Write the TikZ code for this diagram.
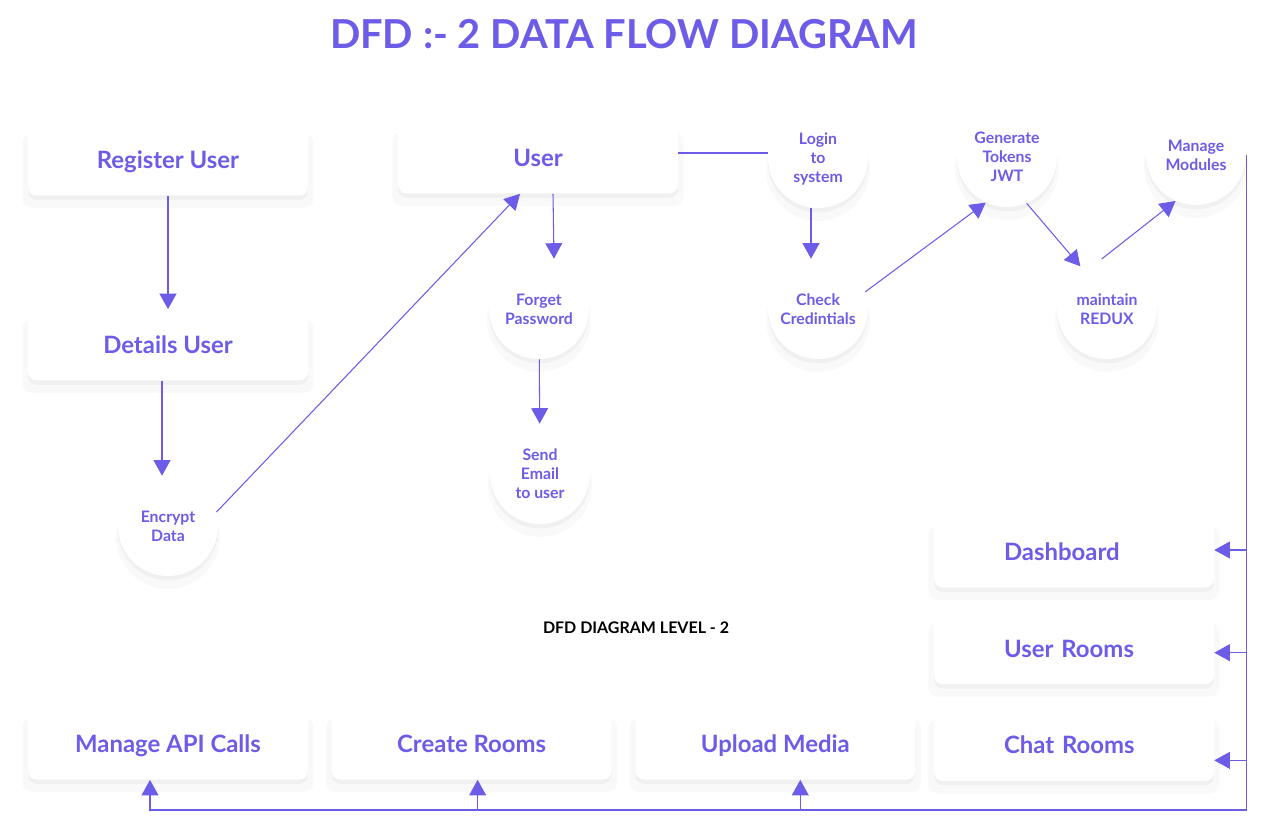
\documentclass[tikz,border=0pt]{standalone}
\usepackage{fontspec}
\setmainfont{Lato}
\usepackage{tikz}
\usetikzlibrary{arrows.meta,positioning,shadows}
\definecolor{dfdpurple}{HTML}{6C5CE7}
\tikzset{soft/.style={general shadow={fill=black, opacity=0.025, shadow scale=1.04, shadow yshift=-6pt},
    drop shadow={fill=black, opacity=0.035, shadow xshift=0pt, shadow yshift=-2.5pt}}}
\tikzset{proc/.style={circle, fill=white, soft, minimum size=2cm, inner sep=0pt, align=center, text depth=0pt, text=dfdpurple, font=\bfseries\fontsize{9}{10.8}\selectfont}}
\tikzstyle{st}=[rectangle, fill=white, soft, rounded corners=5pt, minimum width=5.6cm, minimum height=1.42cm, text height=9.8pt, text depth=0pt, text=dfdpurple, font=\bfseries\fontsize{13.6}{16}\selectfont]
\tikzstyle{stl}=[st, text width=2.8cm, inner xsep=1.4cm, align=left]

\begin{document}
\begin{tikzpicture}[x=0.02cm, y=-0.02cm, >={Triangle[width=9.6pt,length=8.8pt]}, node distance=0.5cm,
  flow/.style={dfdpurple, line width=0.6pt}]
\fill[white] (0,0) rectangle (1264,832);
\useasboundingbox (0,0) rectangle (1264,832);
\node[text=dfdpurple, font=\bfseries\fontsize{22.7}{27}\selectfont] (title) at (624,34) {DFD :- 2 DATA FLOW DIAGRAM};
% left column and user
\node[st] (reg) at (168,160) {Register User};
\node[st] (det) at (168,345) {Details User};
\node[st] (usr) at (538,158) {User};
\node[proc] (enc) at (168,526) {Encrypt\\Data};
\node[proc] (fp) at (539,309) {Forget\\Password};
\node[proc] (se) at (540,474) {Send\\Email\\to user};
% login chain
\node[proc] (log) at (818,158) {Login\\to\\system};
\node[proc] (chk) at (818,309) {Check\\Credintials};
\node[proc] (gen) at (1007,157) {Generate\\Tokens\\JWT};
\node[proc] (rdx) at (1107,309) {maintain\\REDUX};
\node[proc] (mod) at (1196,155) {Manage\\Modules};
% modules
\node[stl] (dash) at (1074,552) {Dashboard};
\node[stl][below=of dash] (room) {User Rooms};
\node[stl][below=of room] (chat) {Chat Rooms};
\node[st] (api) at (168,744) {Manage API Calls};
\node[st][right=0.46cm of api] (crt) {Create Rooms};
\node[st][right=0.46cm of crt] (upl) {Upload Media};
\node[font=\bfseries\fontsize{9.1}{11}\selectfont] (lvl) at (636,628) {DFD DIAGRAM LEVEL - 2};

\path[flow,->] (reg) edge (det)
    ([xshift=-0.12cm]det.south) edge ([xshift=-0.12cm]enc.north)
    (enc.16) edge ([xshift=-0.36cm]usr.south)
    ([xshift=0.3cm]usr.south) edge ([xshift=0.3cm]fp.north)
    (fp) edge (se)
    ([xshift=-0.14cm]log.south) edge ([xshift=-0.14cm]chk.north)
    (chk.20) edge (gen.245)
    (gen.293) edge (rdx.122)
    (rdx.96) edge (mod.246);
\draw[flow] ([yshift=0.1cm]usr.east) -- ([yshift=0.1cm]log.west);

\coordinate (rail) at (1246,810);
\draw[flow] (mod.east) |- (rail);
\draw[flow,->] (rail) -| ([xshift=-0.36cm]api.south);
\draw[flow,->] ([xshift=0.12cm]crt.south |- rail) -- ([xshift=0.12cm]crt.south);
\draw[flow,->] ([xshift=0.5cm]upl.south |- rail) -- ([xshift=0.5cm]upl.south);
\draw[flow,->] ([yshift=0.04cm]dash.east -| rail) -- ([yshift=0.04cm]dash.east);
\draw[flow,->] ([yshift=-0.08cm]room.east -| rail) -- ([yshift=-0.08cm]room.east);
\draw[flow,->] ([yshift=-0.3cm]chat.east -| rail) -- ([yshift=-0.3cm]chat.east);
\end{tikzpicture}
\end{document}
